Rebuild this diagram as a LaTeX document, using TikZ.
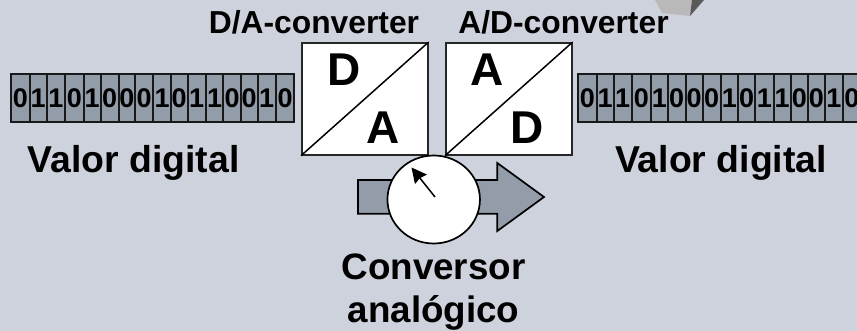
\documentclass[tikz,border=0pt]{standalone}
\usepackage{fontspec}
\setmainfont{Liberation Sans}
\usetikzlibrary{shapes.geometric,arrows.meta}
\definecolor{bgc}{HTML}{CED2DC}
\definecolor{cellc}{HTML}{939DAA}
\tikzset{
  x=1pt,y=-1pt,
  cellbox/.style={draw=black!90,line width=1.8pt,fill=cellc,minimum height=48.5pt,inner sep=0pt,anchor=north west,font=\bfseries\fontsize{27}{30}\selectfont},
  convbox/.style={draw=black!85,line width=1.7pt,fill=white,minimum width=126pt,minimum height=112pt,inner sep=0pt,anchor=north west},
  biglet/.style={inner sep=0pt,font=\bfseries\fontsize{46}{50}\selectfont},
  biglabel/.style={inner sep=0pt,font=\bfseries\fontsize{36.8}{43}\selectfont,align=center},
  vallabel/.style={inner sep=0pt,font=\bfseries\fontsize{37.4}{43}\selectfont},
  smalllabel/.style={inner sep=0pt,font=\bfseries\fontsize{31.8}{36}\selectfont},
}
\newcommand{\regcells}[2]{%
  \foreach \xa/\xb/\dig [count=\i] in {#2}{
    \pgfmathsetmacro{\cellw}{\xb-\xa}
    \node[cellbox,minimum width=\cellw pt] (#1\i) at (\xa,73) {\dig};
  }
}
\begin{document}
\begin{tikzpicture}
\useasboundingbox (0,0) rectangle (857,331);
\clip (0,0) rectangle (857,331);
\fill[bgc] (0,0) rectangle (857,331);
% cube
\fill[gray!55] (655,0) -- (662,13) -- (690,16) -- (692,0) -- cycle;
\fill[black!65] (690,16) -- (692,0) -- (704,0) -- cycle;
% registers
\regcells{l}{10/29/0,29/45.7/1,45.7/64.3/1,64.3/82.7/0,82.7/100/1,100/117.7/0,117.7/134.3/0,134.3/152.3/0,152.3/170/1,170/186.7/0,186.7/205/1,205/222.3/1,222.3/240/0,240/256.7/0,256.7/275/1,275/293.3/0}
\regcells{r}{577.3/595.7/0,595.7/612.7/1,612.7/631/1,631/650/0,650/667/1,667/684.7/0,684.7/701.7/0,701.7/720/0,720/737/1,737/754.3/0,754.3/772.7/1,772.7/789.7/1,789.7/807/0,807/824/0,824/842/1,842/860/0}
% converters
\node[convbox] (da) at (301,42) {};
\node[convbox] (ad) at (445,42) {};
\draw[line width=1.5pt] (da.south west) -- (da.north east);
\draw[line width=1.5pt] (ad.south west) -- (ad.north east);
\node[biglet] (d1) at (344,70) {D};
\node[biglet] (a1) at (383,128) {A};
\node[biglet] (a2) at (487,70) {A};
\node[biglet] (d2) at (527,128) {D};
% arrow
\draw[draw=black,line width=1.7pt,fill=cellc] (358,180) -- (497.3,180) -- (497.3,163) -- (544,197) -- (497.3,231) -- (497.3,213.7) -- (358,213.7) -- cycle;
% dial
\node[draw=black,line width=1.7pt,fill=white,ellipse,minimum width=92.5pt,minimum height=88pt,inner sep=0pt] (dial) at (433.7,199.5) {};
\coordinate (needle) at (435,197);
\coordinate (tip) at (411.5,167.5);
\draw[line width=1.5pt,-{Stealth[length=15pt,width=15pt,inset=1.5pt]}] (needle) -- (tip);
% labels
\node[smalllabel] (t1) at (314,22) {D/A-converter};
\node[smalllabel] (t2) at (563.5,22) {A/D-converter};
\node[vallabel] (v1) at (133.5,163) {Valor digital};
\node[vallabel] (v2) at (721,163) {Valor digital};
\node[biglabel] (c) at (433.5,292) {Conversor\\analógico};
\end{tikzpicture}
\end{document}
